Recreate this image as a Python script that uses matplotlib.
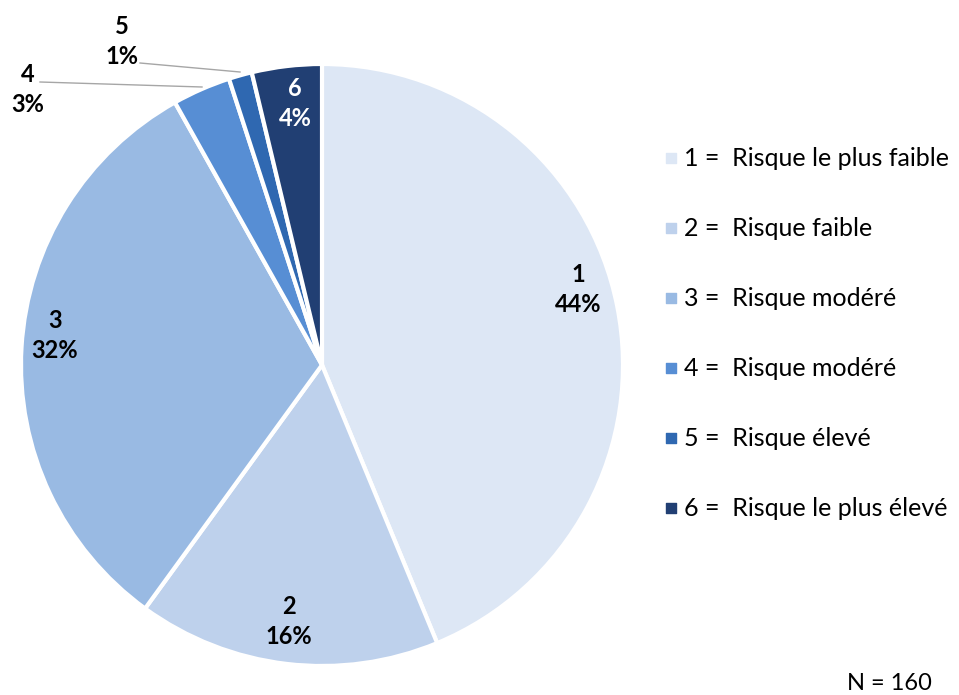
import matplotlib.pyplot as plt

plt.rcParams['font.family'] = ['Lato', 'DejaVu Sans']

# counts out of N = 160
categories = ['1', '2', '3', '4', '5', '6']
counts = [70, 26, 51, 5, 2, 6]
pct_labels = ['44%', '16%', '32%', '3%', '1%', '4%']
legend_labels = ['1 =  Risque le plus faible', '2 =  Risque faible', '3 =  Risque modéré',
                 '4 =  Risque modéré', '5 =  Risque élevé', '6 =  Risque le plus élevé']
colors = ['#DDE7F5', '#BED1EC', '#99BAE3', '#578ED4', '#2F68B1', '#213F73']
n_total = 160

W, H = 959, 695
fig = plt.figure(figsize=(W / 100, H / 100), dpi=100)
ax = fig.add_axes([0, 0, 1, 1])

cx, cy, r = 322, 365, 301
# y axis gets inverted below, so counterclock + startangle -90 runs clockwise from the top
ax.pie(counts, colors=colors, startangle=-90, counterclock=True,
       center=(cx, cy), radius=r, frame=True,
       wedgeprops=dict(edgecolor='white', linewidth=3))
ax.set_xlim(0, W)
ax.set_ylim(H, 0)
ax.set_aspect('equal')
ax.axis('off')

label_pos = [(578, 289), (289, 621), (55, 336), (28, 89), (122, 42), (295, 103)]
label_col = ['black', 'black', 'black', 'black', 'black', 'white']
for cat, pct, (x, y), c in zip(categories, pct_labels, label_pos, label_col):
    ax.text(x, y - 15, cat, ha='center', va='center', fontsize=17,
            fontweight='bold', color=c)
    ax.text(x, y + 15, pct, ha='center', va='center', fontsize=17,
            fontweight='bold', color=c)

# leader lines for small slices
ax.plot([40, 202], [82, 87], color='#A6A6A6', lw=1)
ax.plot([140, 240], [63, 72], color='#A6A6A6', lw=1)

# legend
for i, (lab, col) in enumerate(zip(legend_labels, colors)):
    y = 158 + 70 * i
    ax.scatter([671], [y], marker='s', s=55, color=col)
    ax.text(684, y, lab, ha='left', va='center', fontsize=18)

ax.text(932, 683, f'N = {n_total}', ha='right', va='center', fontsize=17)

fig.savefig('out.png', dpi=100)
